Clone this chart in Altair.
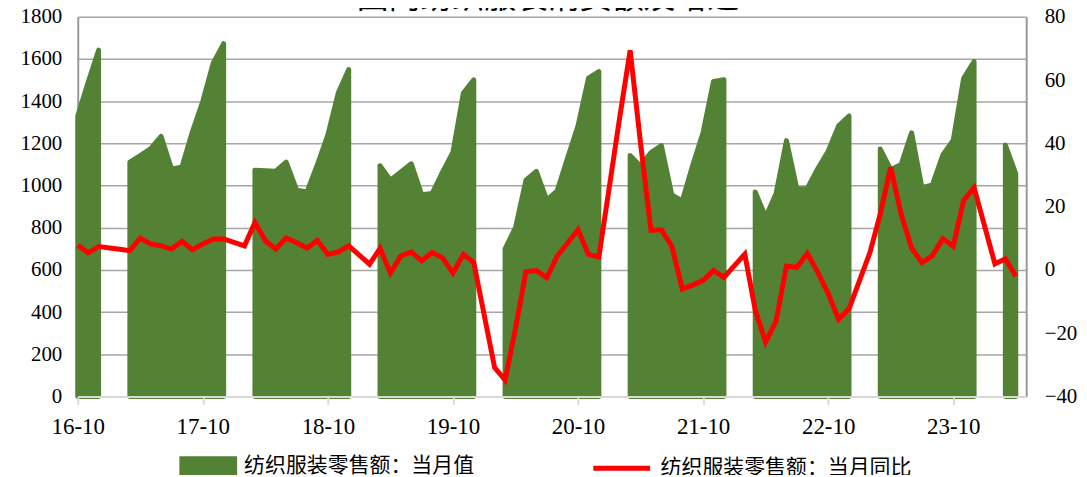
import json
import altair as alt
import pandas as pd

# ---------------- data ----------------
# months from 2016-10 to 2024-04 (index 0 = 2016-10)
n_months = 91

# 纺织服装零售额：当月值 (亿元); Jan/Feb not published separately -> None
retail_2016 = [1330, 1490, 1642]                                                      # Oct-Dec
retail_2017 = [None, None, 1111, 1142, 1175, 1233, 1078, 1088, 1255, 1400, 1580, 1673]
retail_2018 = [None, None, 1072, 1070, 1068, 1111, 978, 970, 1100, 1240, 1440, 1550]
retail_2019 = [None, None, 1094, 1025, 1064, 1103, 956, 962, 1064, 1158, 1439, 1501]
retail_2020 = [None, None, 700, 800, 1025, 1067, 931, 975, 1130, 1283, 1509, 1540]
retail_2021 = [None, None, 1142, 1092, 1156, 1189, 955, 927, 1095, 1252, 1494, 1502]
retail_2022 = [None, None, 970, 850, 962, 1213, 984, 986, 1080, 1163, 1283, 1330]
retail_2023 = [None, None, 1173, 1075, 1100, 1250, 990, 1003, 1145, 1215, 1509, 1588]
retail_2024 = [None, None, 1192, 1056]                                                # Jan-Apr

# 纺织服装零售额：当月同比 (%); Jan merged into Feb -> None for Jan
yoy_2016 = [7.8, 5.4, 7.4]
yoy_2017 = [None, 6.5, 6.1, 10.0, 8.2, 7.6, 6.6, 9.0, 6.4, 8.2, 9.8, 9.8]
yoy_2018 = [None, 7.6, 15.0, 9.2, 6.6, 10.1, 8.6, 6.9, 9.3, 4.9, 5.7, 7.6]
yoy_2019 = [None, 1.8, 6.8, -1.0, 4.4, 5.6, 2.9, 5.5, 3.8, -1.0, 4.9, 2.3]
yoy_2020 = [None, -30.9, -34.8, -18.5, -0.6, -0.2, -2.5, 4.4, 8.5, 12.7, 4.9, 4.1]
yoy_2021 = [None, 48.2, 69.4, 40.0, 12.5, 12.7, 7.5, -6.0, -4.8, -3.3, -0.2, -2.4]
yoy_2022 = [None, 5.0, -12.7, -22.8, -16.2, 1.2, 0.8, 5.2, -0.8, -7.5, -15.6, -12.3]
yoy_2023 = [None, 5.4, 17.7, 32.4, 17.6, 6.9, 2.3, 4.5, 9.9, 7.5, 22.0, 26.0]
yoy_2024 = [None, 1.9, 3.5, -2.0]

x_tick_labels = ["16-10", "17-10", "18-10", "19-10", "20-10", "21-10", "22-10", "23-10"]
left_ticks = [0, 200, 400, 600, 800, 1000, 1200, 1400, 1600, 1800]
right_ticks = [-40, -20, 0, 20, 40, 60, 80]

title_text = "国内纺织服装消费额及增速"
name_value = "纺织服装零售额：当月值"
name_yoy = "纺织服装零售额：当月同比"

retail = (retail_2016 + retail_2017 + retail_2018 + retail_2019 + retail_2020
          + retail_2021 + retail_2022 + retail_2023 + retail_2024)
yoy = (yoy_2016 + yoy_2017 + yoy_2018 + yoy_2019 + yoy_2020
       + yoy_2021 + yoy_2022 + yoy_2023 + yoy_2024)

# segment id for each continuous run of monthly values (areas break at Jan/Feb)
seg, cur, prev_valid = [], 0, False
for v in retail:
    if v is not None and not prev_valid:
        cur += 1
    seg.append(f"s{cur}" if v is not None else None)
    prev_valid = v is not None

df = pd.DataFrame({
    "idx": list(range(len(retail))),
    "value": retail,
    "yoy": yoy,
    "seg": seg,
    "s1": [name_value] * len(retail),
    "s2": [name_yoy] * len(retail),
})

SERIF = "Liberation Serif"
CJK = "Noto Sans CJK SC"

x_enc = alt.X(
    "idx:Q",
    scale=alt.Scale(domain=[0, n_months], nice=False, zero=False),
    axis=alt.Axis(
        values=[12 * i for i in range(len(x_tick_labels))],
        labelExpr=json.dumps(x_tick_labels) + "[round(datum.value/12)]",
        title=None, grid=False,
        domainColor="#d9d9d9", domainWidth=2,
        tickColor="#d9d9d9", tickWidth=2, tickSize=8,
        labelFont=SERIF, labelFontSize=23, labelColor="black",
        labelPadding=11, labelFlush=False, labelOverlap=False, zindex=1,
    ),
)

base = alt.Chart(df)

area = base.transform_filter("isValid(datum.value)").mark_area(
    stroke="#548235", strokeWidth=5, strokeJoin="round", opacity=1
).encode(
    x=x_enc,
    y=alt.Y(
        "value:Q",
        stack=None,
        scale=alt.Scale(domain=[0, 1800], nice=False),
        axis=alt.Axis(
            values=left_ticks, format="d", title=None, ticks=False, tickSize=0,
            grid=True, gridColor="#a6a6a6", gridWidth=1.5,
            domainColor="#999999", domainWidth=2,
            labelFont=SERIF, labelFontSize=21, labelColor="black",
            labelPadding=16, labelFlush=False,
        ),
    ),
    fill=alt.Fill(
        "s1:N",
        scale=alt.Scale(domain=[name_value], range=["#548235"]),
        legend=alt.Legend(
            title=None, orient="none", legendX=102, legendY=421.5, padding=0,
            symbolType="M-1,-0.33H1V0.33H-1Z", symbolSize=3364,
            symbolStrokeWidth=0, symbolOpacity=1, labelLimit=500,
            labelFont=CJK, labelFontSize=21, labelColor="black", labelOffset=7,
        ),
    ),
    detail="seg:N",
)

line = base.transform_filter("isValid(datum.yoy)").mark_line(
    strokeWidth=5
).encode(
    x=x_enc,
    y=alt.Y(
        "yoy:Q",
        scale=alt.Scale(domain=[-40, 80], nice=False),
        axis=alt.Axis(
            orient="right", values=right_ticks, format="d", title=None,
            ticks=False, tickSize=0,
            grid=False, domainColor="#999999", domainWidth=2,
            labelFont=SERIF, labelFontSize=21, labelColor="black",
            labelPadding=18, labelFlush=False,
        ),
    ),
    stroke=alt.Stroke(
        "s2:N",
        scale=alt.Scale(domain=[name_yoy], range=["#ff0000"]),
        legend=alt.Legend(
            title=None, orient="none", legendX=515, legendY=422, padding=0,
            symbolType="stroke", symbolSize=3249, symbolStrokeWidth=5,
            labelLimit=500,
            labelFont=CJK, labelFontSize=21, labelColor="black", labelOffset=8,
        ),
    ),
)

title_layer = alt.Chart(pd.DataFrame({"t": [title_text]})).mark_text(
    font=CJK, fontSize=32, color="black", baseline="bottom", align="center"
).encode(text="t:N", x=alt.value(472), y=alt.value(-2))

chart = alt.layer(area, line, title_layer).resolve_scale(
    y="independent"
).properties(
    width=952, height=381,
    padding={"left": 70, "top": 8, "right": 53, "bottom": 78},
    autosize=alt.AutoSizeParams(type="none"),
).configure_view(stroke=None)

chart.save("out.html", embed_options={"renderer": "svg", "actions": False})
